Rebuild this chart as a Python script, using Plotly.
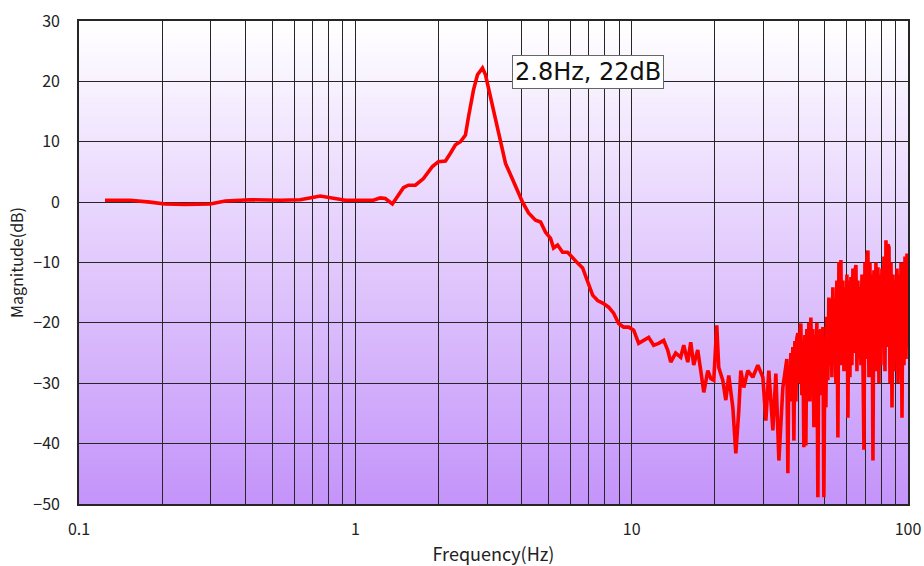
import plotly.graph_objects as go

# ---------------- data ----------------
# smooth / lightly noisy part, 0.12 Hz .. 35 Hz
freq_main = [
    0.1242, 0.1530, 0.1808, 0.2049, 0.2421, 0.2984, 0.3381, 0.4165, 0.5350, 0.6320,
    0.7466, 0.8115, 0.9200, 1.043, 1.162, 1.232, 1.284, 1.362, 1.420, 1.493,
    1.556, 1.650, 1.764, 1.901, 1.998, 2.119, 2.209, 2.303, 2.401, 2.503,
    2.567, 2.677, 2.767, 2.885, 2.958, 3.084, 3.216, 3.353, 3.496, 3.736,
    4.028, 4.235, 4.489, 4.681, 4.880, 5.088, 5.217, 5.394, 5.623, 5.863,
    6.113, 6.373, 6.645, 6.928, 7.223, 7.531, 7.918, 8.254, 8.606, 8.973,
    9.355, 9.752, 10.17, 10.60, 11.05, 11.52, 12.01, 12.52, 13.06, 13.50,
    13.85, 14.43, 15.05, 15.43, 15.96, 16.36, 16.77, 17.34, 17.78, 18.24,
    18.86, 19.33, 19.82, 20.32, 20.66, 21.36, 21.91, 22.46, 23.23, 23.82,
    24.42, 24.83, 25.46, 26.32, 27.44, 28.61, 29.83, 30.59, 31.36, 32.43,
    33.25, 34.10, 35.25,
]
mag_main = [
    0.3, 0.3, 0.0, -0.3, -0.4, -0.3, 0.2, 0.4, 0.3, 0.4,
    1.0, 0.7, 0.3, 0.3, 0.3, 0.7, 0.6, -0.3, 0.9, 2.4,
    2.8, 2.8, 3.9, 5.9, 6.7, 6.8, 8.1, 9.5, 10.0, 11.1,
    14.1, 18.6, 21.1, 22.2, 21.1, 17.5, 14.1, 10.3, 6.4, 3.4,
    0.0, -1.8, -3.0, -3.3, -5.0, -6.0, -7.6, -7.1, -8.3, -8.3,
    -9.3, -10.1, -10.9, -13.3, -15.4, -16.3, -16.8, -17.4, -18.4, -20.1,
    -20.7, -20.7, -21.2, -23.4, -22.9, -22.4, -23.7, -23.4, -22.9, -24.5,
    -26.5, -25.0, -25.7, -23.7, -26.5, -23.2, -27.0, -24.5, -27.9, -31.5,
    -27.9, -29.2, -29.5, -20.4, -27.4, -29.5, -32.8, -28.7, -34.0, -41.6,
    -34.5, -27.9, -30.7, -27.9, -29.0, -27.0, -29.0, -36.2, -27.9, -37.8,
    -28.4, -42.8, -30.7,
]
# dense noisy part, 36 Hz .. 100 Hz
freq_noisy = [
    36.44, 36.75, 37.05, 37.37, 37.68, 37.99, 38.31, 38.64, 38.96, 39.29,
    39.61, 39.94, 40.27, 40.61, 40.95, 41.29, 41.64, 41.99, 42.34, 42.69,
    43.05, 43.41, 43.77, 44.14, 44.51, 44.88, 45.26, 45.64, 46.02, 46.42,
    46.79, 47.19, 47.58, 47.98, 48.38, 48.79, 49.19, 49.60, 50.02, 50.44,
    50.86, 51.28, 51.71, 52.15, 52.59, 53.03, 53.47, 53.92, 54.37, 54.83,
    55.28, 55.76, 56.23, 56.70, 57.17, 57.66, 58.14, 58.63, 59.12, 59.62,
    60.11, 60.62, 61.12, 61.64, 62.15, 62.67, 63.19, 63.73, 64.26, 64.80,
    65.34, 65.89, 66.44, 67.00, 67.56, 68.13, 68.69, 69.27, 69.85, 70.44,
    71.02, 71.62, 72.22, 72.82, 73.43, 74.04, 74.67, 75.29, 75.92, 76.55,
    77.20, 77.84, 78.50, 79.15, 79.82, 80.48, 81.16, 81.85, 82.54, 83.23,
    83.93, 84.63, 85.34, 86.07, 86.78, 87.51, 88.24, 88.98, 89.73, 90.48,
    91.24, 91.99, 92.77, 93.54, 94.33, 95.12, 95.92, 96.71, 97.53, 98.35,
    99.17, 100.0,
]
mag_noisy = [
    -26, -44.9, -27, -33, -25, -31, -24, -39.5, -23, -33,
    -22.5, -21.7, -30, -22, -20.1, -32, -23, -40.6, -22, -40.3,
    -21, -30, -20, -33, -19.1, -28, -21, -37.3, -22, -31,
    -20, -48.9, -21.2, -32, -21, -30, -20.7, -48.9, -24, -34,
    -19, -29.5, -15.8, -27, -16, -29, -14.1, -26, -16, -30,
    -13, -39, -9.9, -25, -9.6, -27, -13, -28, -14.1, -26,
    -12, -35.7, -13, -29, -12.4, -27, -11, -25, -11.5, -10.4,
    -28, -13, -26, -14, -27, -12, -30, -41, -10, -26,
    -9, -8.0, -29, -10, -27, -12, -42.8, -11.3, -26, -10,
    -28, -10.8, -30, -12, -27, -11, -22.9, -9, -28, -6.3,
    -24, -7, -7.5, -30, -10, -34, -12, -28, -12.9, -26,
    -11, -30, -12, -28, -10, -35.7, -10.1, -27, -9, -26,
    -8.5, -24,
]

y_range = [-50, 30]
y_ticks = [30, 20, 10, 0, -10, -20, -30, -40, -50]
x_grid = [0.1, 0.2, 0.3, 0.4, 0.5, 0.6, 0.7, 0.8, 0.9,
          1, 2, 3, 4, 5, 6, 7, 8, 9,
          10, 20, 30, 40, 50, 60, 70, 80, 90, 100]
x_labels = {0.1: "0.1", 1: "1", 10: "10", 100: "100"}
peak_label = "2.8Hz, 22dB"
peak_label_pos = (0.8406, 21.5)  # centre of label box: (log10 Hz, dB)

freq_hz = freq_main + freq_noisy
mag_db = mag_main + mag_noisy

# ---------------- figure ----------------
FONT = "Noto Sans CJK JP, Noto Sans, sans-serif"
fig = go.Figure()

fig.add_trace(go.Scatter(
    x=freq_hz, y=mag_db, mode="lines",
    line=dict(color="#ff0000", width=3.6),
    showlegend=False, hoverinfo="x+y",
))

# vertical gradient background (white top -> purple bottom), drawn below the grid
top_rgb = (255, 255, 255)
bot_rgb = (196, 148, 250)
n = 160
shapes = []
for i in range(n):
    t = i / (n - 1)
    r = round(bot_rgb[0] + (top_rgb[0] - bot_rgb[0]) * t)
    g = round(bot_rgb[1] + (top_rgb[1] - bot_rgb[1]) * t)
    b = round(bot_rgb[2] + (top_rgb[2] - bot_rgb[2]) * t)
    shapes.append(dict(type="rect", xref="x domain", yref="y domain",
                       x0=0, x1=1, y0=i / n, y1=min((i + 1) / n + 0.002, 1),
                       fillcolor=f"rgb({r},{g},{b})", line=dict(width=0),
                       layer="below"))

fig.update_layout(
    width=924, height=566,
    margin=dict(l=79, r=16, t=21, b=62),
    paper_bgcolor="white",
    plot_bgcolor="white",
    shapes=shapes,
    font=dict(family=FONT, color="#222222", size=16),
    xaxis=dict(
        type="log", range=[-1, 2],
        tickvals=x_grid,
        ticktext=[x_labels.get(v, "") for v in x_grid],
        showgrid=True, gridcolor="#262626", gridwidth=1.3,
        showline=True, linecolor="#262626", linewidth=1.6, mirror=True,
        ticks="", ticklabelstandoff=10, ticklabeloverflow="allow",
        tickfont=dict(size=16),
        title=dict(text="Frequency(Hz)", font=dict(size=18), standoff=17),
        zeroline=False, automargin=False,
    ),
    yaxis=dict(
        range=y_range, tickvals=y_ticks,
        ticktext=[str(v).replace("-", "\u2212") for v in y_ticks],
        showgrid=True, gridcolor="#262626", gridwidth=1.3,
        showline=True, linecolor="#262626", linewidth=1.6, mirror=True,
        ticks="", ticklabelstandoff=14, ticklabeloverflow="allow",
        tickfont=dict(size=16),
        title=dict(text="Magnitude(dB)", font=dict(size=16), standoff=6),
        zeroline=False, automargin=False,
    ),
    annotations=[dict(
        x=peak_label_pos[0], y=peak_label_pos[1], xref="x", yref="y",
        xanchor="center", yanchor="middle",
        text=peak_label, showarrow=False,
        font=dict(size=24, color="#111111", family="DejaVu Sans, sans-serif"),
        bgcolor="white", bordercolor="#666666", borderwidth=1, borderpad=2,
    )],
)

fig.write_html(
    "out.html",
    config={"displayModeBar": False},
    post_script="document.body.style.margin='0';document.body.style.overflow='hidden';",
)
